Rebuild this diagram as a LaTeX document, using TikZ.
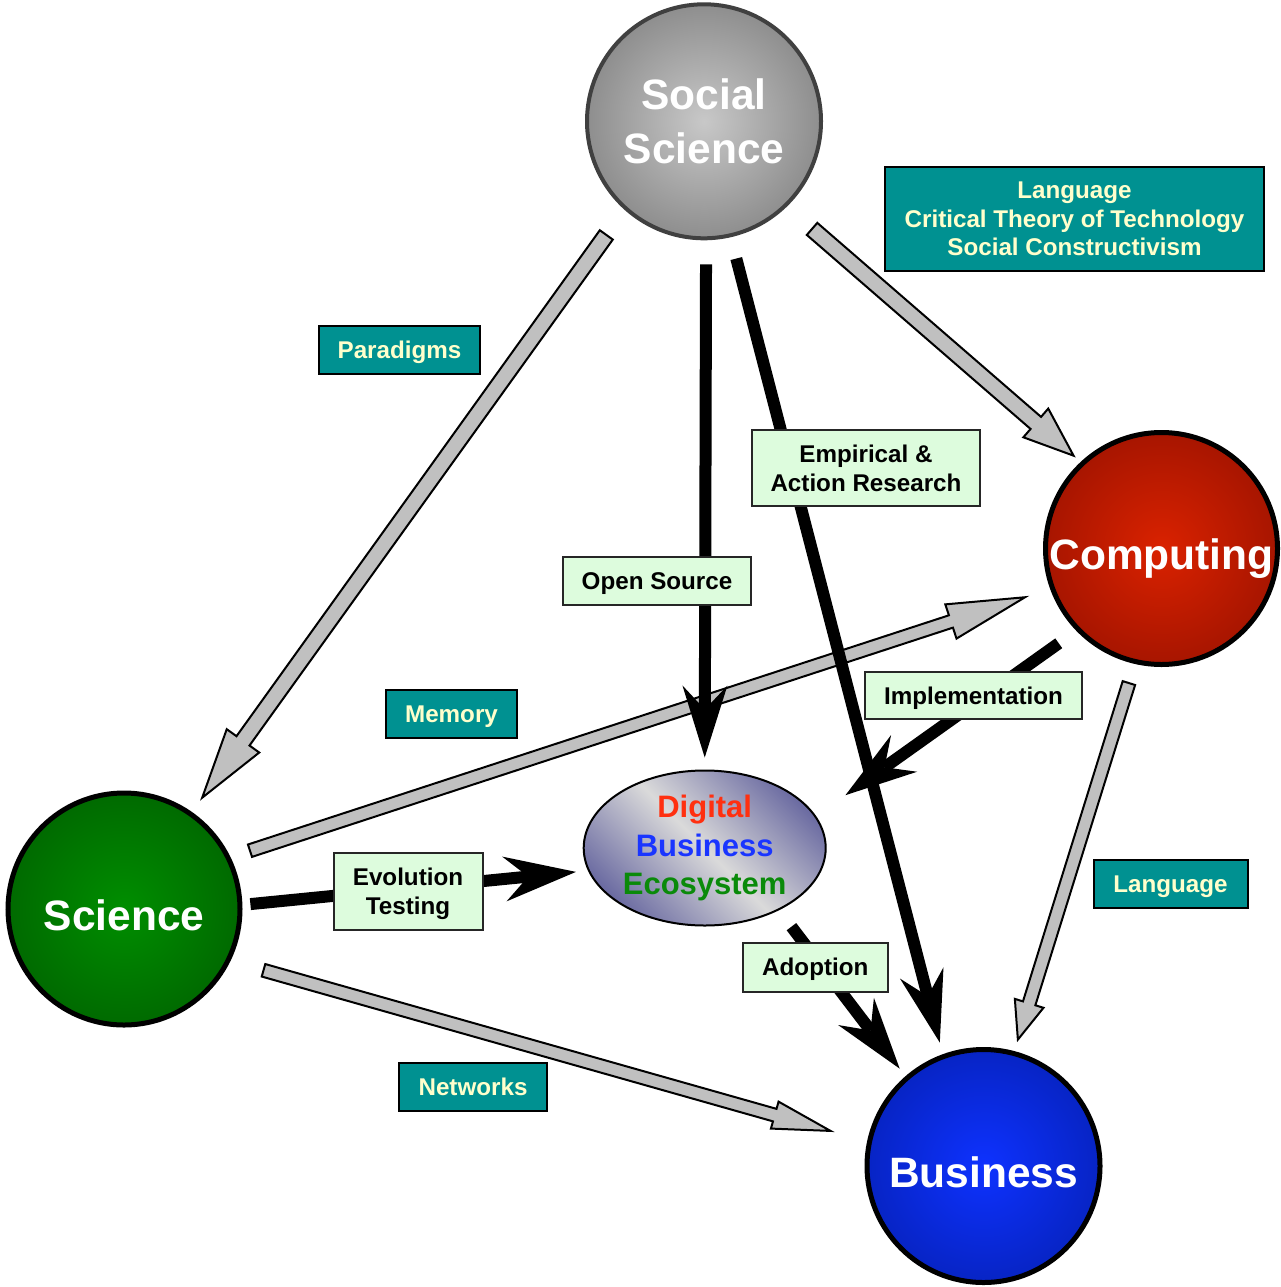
\documentclass[tikz,border=0pt]{standalone}
\usepackage{fontspec}
\setmainfont{Liberation Sans}
\usetikzlibrary{arrows.meta,calc,shapes.geometric}
\definecolor{tealfill}{RGB}{0,145,145}
\definecolor{tealtext}{RGB}{255,255,204}
\definecolor{greenfill}{RGB}{221,252,221}
\definecolor{arrowgray}{RGB}{192,192,192}
\definecolor{ssin}{RGB}{200,200,200}
\definecolor{ssout}{RGB}{84,84,84}
\definecolor{ssborder}{RGB}{64,64,64}
\definecolor{cpin}{RGB}{218,34,0}
\definecolor{cpout}{RGB}{116,8,0}
\definecolor{scin}{RGB}{0,142,0}
\definecolor{scout}{RGB}{0,70,0}
\definecolor{buin}{RGB}{14,50,255}
\definecolor{buout}{RGB}{0,22,138}
\definecolor{dbeedge}{RGB}{108,108,162}
\definecolor{dbemid}{RGB}{218,218,218}
\definecolor{dred}{RGB}{255,48,16}
\definecolor{dblue}{RGB}{26,53,255}
\definecolor{dgreen}{RGB}{10,138,10}
\pgfdeclareradialshading{ssball}{\pgfpoint{0bp}{0bp}}{color(0bp)=(ssin); color(50bp)=(ssout)}
\pgfdeclareradialshading{cpball}{\pgfpoint{0bp}{0bp}}{color(0bp)=(cpin); color(50bp)=(cpout)}
\pgfdeclareradialshading{scball}{\pgfpoint{0bp}{0bp}}{color(0bp)=(scin); color(50bp)=(scout)}
\pgfdeclareradialshading{buball}{\pgfpoint{0bp}{0bp}}{color(0bp)=(buin); color(50bp)=(buout)}
\newcommand\grayarr[5]{%
  \coordinate (gh) at ($(#2)!#5!(#1)$);
  \filldraw[grayarrow] ($(#1)!#3!90:(#2)$) -- ($(gh)!#3!90:(#2)$) -- ($(gh)!#4!90:(#2)$) -- (#2)
    -- ($(gh)!#4!-90:(#2)$) -- ($(gh)!#3!-90:(#2)$) -- ($(#1)!#3!-90:(#2)$) -- cycle;}
\begin{document}
\begin{tikzpicture}[x=1pt,y=-1pt,
  ball/.style={circle, inner sep=0pt, align=center, text=white,
    font=\bfseries\fontsize{42.5}{54}\selectfont},
  oneball/.style={ball, text height=42pt, text depth=0pt},
  tealbox/.style={draw=black, line width=2pt, fill=tealfill, text=tealtext, inner sep=0pt,
    align=center, font=\bfseries\fontsize{24.2}{28.3}\selectfont},
  greenbox/.style={draw=black!85, line width=2pt, fill=greenfill, text=black, inner sep=0pt,
    align=center, font=\bfseries\fontsize{24.2}{29}\selectfont},
  oneline/.style={text height=17.3pt, text depth=0pt},
  grayarrow/.style={fill=arrowgray, draw=black, line width=2pt, line join=miter},
  blackarrow/.style={line width=12pt,
    -{Stealth[length=72pt,width=45pt,inset=24pt,line width=0pt]}}]
\path[use as bounding box, fill=white] (0,0) rectangle (1280,1287);

% main nodes
\node[ball, shading=ssball, draw=ssborder, line width=4pt, minimum size=234pt] (ss) at (704,121.3) {Social\\Science};
\node[oneball, shading=cpball, draw=black, line width=5pt, minimum size=232pt] (comp) at (1161.5,548.5) {Computing};
\node[oneball, shading=scball, draw=black, line width=5pt, minimum size=232pt] (sci) at (124,909) {Science};
\node[oneball, shading=buball, draw=black, line width=5pt, minimum size=233pt] (bus) at (983.5,1166) {Business};
\node[ellipse, draw=black, line width=2pt, inner sep=0pt, minimum width=242pt, minimum height=155pt,
  top color=dbeedge, bottom color=dbeedge, middle color=dbemid, shading angle=-45,
  align=center, font=\bfseries\fontsize{31}{38.3}\selectfont] (dbe) at (704.7,848)
  {\textcolor{dred}{Digital}\\\textcolor{dblue}{Business}\\\textcolor{dgreen}{Ecosystem}};

% gray block arrows
\coordinate (g1s) at ($(ss.228)!31pt!(sci.55)$);
\coordinate (g1e) at ($(sci.55)!17.5pt!(ss.228)$);
\grayarr{g1s}{g1e}{8pt}{20pt}{70pt}
\coordinate (g2s) at ($(ss.-46)!33.6pt!(comp.133)$);
\coordinate (g2e) at ($(comp.133)!9.4pt!(ss.-46)$);
\grayarr{g2s}{g2e}{8pt}{19pt}{50pt}
\coordinate (g3s) at ($(sci.26)!20.5pt!(comp.200)$);
\coordinate (g3e) at ($(comp.200)!26.4pt!(sci.26)$);
\grayarr{g3s}{g3e}{6.5pt}{18pt}{78pt}
\coordinate (g4s) at ($(comp.257)!20pt!(bus.75)$);
\coordinate (g4e) at ($(bus.75)!12pt!(comp.257)$);
\grayarr{g4s}{g4e}{6.5pt}{15pt}{38pt}
\coordinate (g5s) at ($(sci.-26)!34.3pt!(bus.168)$);
\coordinate (g5e) at ($(bus.168)!38pt!(sci.-26)$);
\grayarr{g5s}{g5e}{6.5pt}{14pt}{58pt}

% black arrows
\draw[blackarrow, shorten <=24pt, shorten >=12pt] (ss.-89) -- (dbe.90);
\draw[blackarrow, shorten <=22pt, shorten >=12pt] (ss.-77) -- (bus.110);
\draw[blackarrow, shorten <=21.5pt, shorten >=36pt] (comp.224) -- (dbe.16);
\draw[blackarrow, shorten <=8pt, shorten >=12pt] (sci.2) -- (dbe.191);
\draw[blackarrow, shorten <=20.6pt, shorten >=9.5pt] (dbe.-40) -- (bus.131);

% teal labels
\node[tealbox, oneline, minimum width=161pt, minimum height=48pt] (lpar) at (399.5,350) {Paradigms};
\node[tealbox, minimum width=379pt, minimum height=104pt] (llang) at (1074.5,219)
  {Language\\Critical Theory of Technology\\Social Constructivism};
\node[tealbox, oneline, minimum width=131pt, minimum height=48pt] (lmem) at (451.5,714) {Memory};
\node[tealbox, oneline, minimum width=154pt, minimum height=48pt] (llang2) at (1170.5,884) {Language};
\node[tealbox, oneline, minimum width=148pt, minimum height=48pt] (lnet) at (473,1087) {Networks};

% green labels
\node[greenbox, minimum width=228pt, minimum height=76pt] (lemp) at (866,468) {Empirical \&\\Action Research};
\node[greenbox, oneline, minimum width=188pt, minimum height=48pt] (lopen) at (657,581) {Open Source};
\node[greenbox, oneline, minimum width=217pt, minimum height=47pt] (limp) at (973.5,695.5) {Implementation};
\node[greenbox, minimum width=149pt, minimum height=77pt] (levo) at (408,891.5) {Evolution\\\smash{Testing}};
\node[greenbox, oneline, minimum width=145pt, minimum height=49pt] (ladop) at (815.3,967) {Adoption};
\end{tikzpicture}
\end{document}
